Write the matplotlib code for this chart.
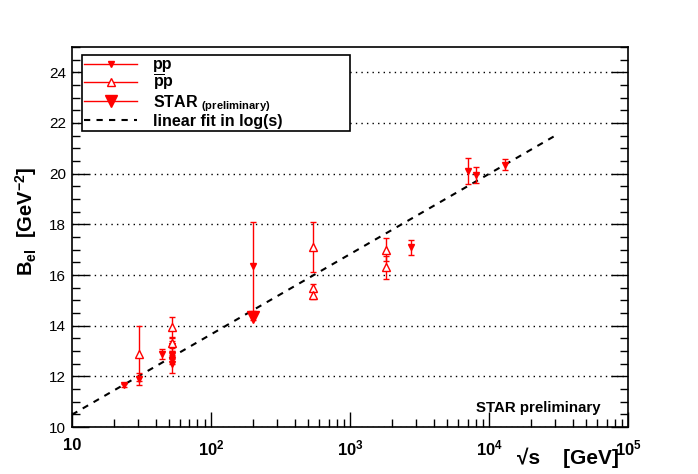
import numpy as np
import matplotlib
matplotlib.use("Agg")
import matplotlib.pyplot as plt
from matplotlib.ticker import MultipleLocator, LogLocator, NullFormatter, FixedLocator
from matplotlib.lines import Line2D

plt.rcParams['font.family'] = ['Liberation Sans', 'DejaVu Sans']
plt.rcParams['mathtext.fontset'] = 'custom'
plt.rcParams['mathtext.rm'] = 'Liberation Sans:bold'
plt.rcParams['mathtext.bf'] = 'Liberation Sans:bold'
plt.rcParams['mathtext.it'] = 'Liberation Sans:bold'

# pp data (filled down triangles)
sqrt_s_pp = [23.5, 30.6, 44.7, 52.8, 52.8, 52.8, 52.8, 200, 2760, 7000, 8000, 13000]
b_pp = [11.65, 11.9, 12.87, 13.2, 12.85, 12.65, 12.5, 16.35, 17.1, 20.1, 19.95, 20.36]
err_pp = [0.05, 0.25, 0.2, 0.2, 0.15, 0.15, 0.35, 1.76, 0.3, 0.5, 0.3, 0.2]

# pbar-p data (open up triangles)
sqrt_s_ppbar = [30.4, 52.6, 52.6, 546, 546, 546, 1800, 1800]
b_ppbar = [12.9, 13.95, 13.33, 17.1, 15.5, 15.2, 17.0, 16.3]
err_ppbar = [1.1, 0.4, 0.2, 1.0, 0.15, 0.15, 0.45, 0.45]

# STAR preliminary
sqrt_s_star = [200]
b_star = [14.35]
err_star = [0.12]

# linear fit in log(s): B = a + b*ln(s)
fit_a = 7.32
fit_b = 0.688
fit_range = [10, 30000]

fig = plt.figure(figsize=(6.98, 4.74), dpi=100)
ax = fig.add_axes([0.103, 0.099, 0.797, 0.802])

red = '#ff0000'
ax.errorbar(sqrt_s_pp, b_pp, yerr=err_pp, fmt='v', color=red, ms=5, capsize=2,
            elinewidth=1, capthick=1, zorder=3)
ax.errorbar(sqrt_s_ppbar, b_ppbar, yerr=err_ppbar, fmt='^', color=red, mfc='white',
            mec=red, ms=6, mew=1, capsize=2, elinewidth=1, capthick=1, zorder=3)
ax.errorbar(sqrt_s_star, b_star, yerr=err_star, fmt='v', color=red, ms=8, capsize=2,
            elinewidth=1, capthick=1, zorder=4)

xf = np.logspace(np.log10(fit_range[0]), np.log10(fit_range[1]), 200)
ax.plot(xf, fit_a + fit_b * np.log(xf ** 2), color='black', lw=1.5,
        linestyle=(0, (3, 3)), zorder=2)

ax.set_xscale('log')
ax.set_xlim(10, 1e5)
ax.set_ylim(10, 25)

ax.xaxis.set_minor_locator(LogLocator(base=10, subs=np.arange(2, 10), numticks=20))
ax.xaxis.set_minor_formatter(NullFormatter())
ax.set_xticks([10, 100, 1000, 1e4, 1e5])
ax.set_xticklabels(['10', '$10^{2}$', '$10^{3}$', '$10^{4}$', '$10^{5}$'],
                   fontweight='bold')
ax.yaxis.set_major_locator(FixedLocator([10, 12, 14, 16, 18, 20, 22, 24]))
ax.yaxis.set_minor_locator(MultipleLocator(0.5))

ax.tick_params(axis='both', which='both', direction='in', top=False, right=True)
ax.tick_params(axis='y', which='major', length=12, width=1, labelsize=11, pad=4)
ax.tick_params(axis='y', which='minor', length=6, width=1)
ax.tick_params(axis='x', which='major', length=11, width=1, labelsize=12, pad=8)
ax.tick_params(axis='x', which='minor', length=6, width=1)
for sp in ax.spines.values():
    sp.set_linewidth(1.2)

ax.grid(True, axis='y', which='major', color='black', linestyle=(0, (1, 3)), lw=1)
ax.set_axisbelow(True)

fig.text(0.886, 0.012, '√s    [GeV]', ha='right', va='bottom',
         fontsize=15, fontweight='bold')
fig.text(0.037, 0.534, r'B$_{el}$  [GeV$^{-2}$]', rotation=90,
         ha='center', va='center', fontsize=14.5, fontweight='bold')
ax.text(0.95, 0.05, 'STAR preliminary', transform=ax.transAxes, ha='right',
        va='center', fontsize=10.8, fontweight='bold')

handles = [
    Line2D([], [], color=red, marker='v', ms=5, lw=1),
    Line2D([], [], color=red, marker='^', mfc='white', mec=red, ms=6, lw=1),
    Line2D([], [], color=red, marker='v', ms=9, lw=1),
    Line2D([], [], color='black', lw=1.5, linestyle=(0, (3, 3))),
]
labels = ['pp', r'$\overline{p}p$',
          'STAR $_{(preliminary)}$', 'linear fit in log(s)']
leg = ax.legend(handles, labels, loc='upper left',
                bbox_to_anchor=(0.018, 0.776, 0.482, 0.203), mode='expand',
                frameon=True, fancybox=False, edgecolor='black', framealpha=1,
                prop={'weight': 'bold', 'size': 11.5}, handlelength=3.3,
                borderpad=0.15, labelspacing=0.02, handletextpad=1.0,
                borderaxespad=0)
leg.get_frame().set_linewidth(1.2)

fig.savefig('out.png', dpi=100)
